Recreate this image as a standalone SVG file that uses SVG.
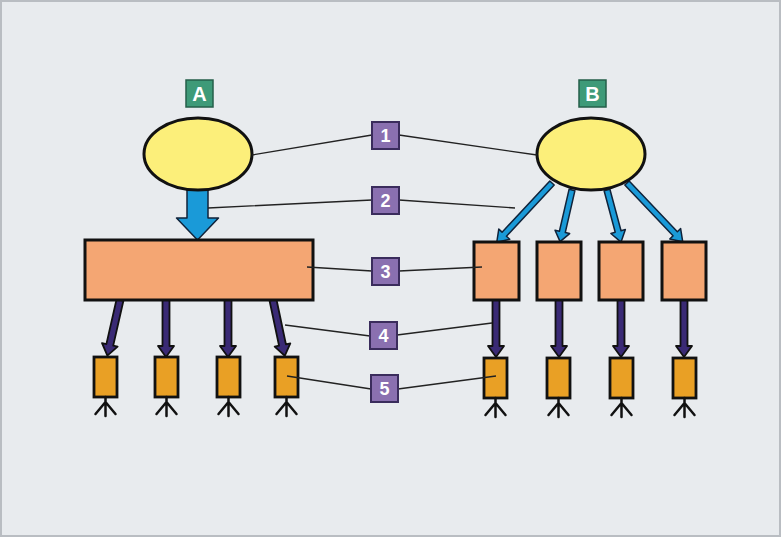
<svg xmlns="http://www.w3.org/2000/svg" width="781" height="537" viewBox="0 0 781 537">
<style>
.bg{fill:#e8ebee;stroke:#b9bdc2;stroke-width:2}
.ell{fill:#fcef7a;stroke:#111;stroke-width:3}
.big{fill:#f4a673;stroke:#111;stroke-width:3}
.small{fill:#e9a025;stroke:#111;stroke-width:2.8}
.blue{fill:#1a9ad8;stroke:#10233a;stroke-width:1.5;stroke-linejoin:round}
.dark{fill:#3a2a75;stroke:#111;stroke-width:1.8;stroke-linejoin:round}
.foot{fill:none;stroke:#111;stroke-width:2.5;stroke-linecap:round}
.lead{fill:none;stroke:#222;stroke-width:1.3}
.lab{fill:#3e9a78;stroke:#245f4a;stroke-width:1.5}
.num{fill:#8a70b0;stroke:#3a2c5c;stroke-width:2}
.lt{font-family:"Liberation Sans",Arial,sans-serif;font-weight:bold;fill:#fff;text-anchor:middle}
</style>
<defs>
<path id="darr" d="M-3.5,0 L3.5,0 L3.5,46 L8,46 L0,57 L-8,46 L-3.5,46 Z"/>
<path id="foot" d="M0,0 V19 M0,5 L-10,17 M0,5 L10,17"/>
</defs>
<rect class="bg" x="1" y="1" width="779" height="535"/>

<g id="connectors">
  <!-- blue arrow A -->
  <path class="blue" d="M187,190 L208,190 L208,218 L218.5,218 L197.5,240 L176.5,218 L187,218 Z"/>
  <!-- blue arrows B -->
  <path class="blue" transform="translate(552,183) rotate(43)" d="M-3,0 L3,0 L3,70 L7.5,70 L0,81 L-7.5,70 L-3,70 Z"/>
  <path class="blue" transform="translate(572,190) rotate(13)" d="M-3,0 L3,0 L3,43 L7.5,43 L0,53 L-7.5,43 L-3,43 Z"/>
  <path class="blue" transform="translate(607,190) rotate(-15)" d="M-3,0 L3,0 L3,43 L7.5,43 L0,54 L-7.5,43 L-3,43 Z"/>
  <path class="blue" transform="translate(627,183) rotate(-43.5)" d="M-3,0 L3,0 L3,70 L7.5,70 L0,81 L-7.5,70 L-3,70 Z"/>
  <!-- dark arrows left -->
  <use href="#darr" class="dark" transform="translate(120,300) rotate(12.8)"/>
  <use href="#darr" class="dark" transform="translate(166,300)"/>
  <use href="#darr" class="dark" transform="translate(228,300)"/>
  <use href="#darr" class="dark" transform="translate(273,300) rotate(-11.9)"/>
  <!-- dark arrows right -->
  <use href="#darr" class="dark" transform="translate(496,300)"/>
  <use href="#darr" class="dark" transform="translate(559,300)"/>
  <use href="#darr" class="dark" transform="translate(621,300)"/>
  <use href="#darr" class="dark" transform="translate(684,300)"/>
</g>

<g id="nodeA"><ellipse class="ell" cx="198" cy="154" rx="54" ry="36"/></g>
<g id="nodeB"><ellipse class="ell" cx="591" cy="154" rx="54" ry="36"/></g>
<g id="labelA"><rect class="lab" x="186" y="80" width="27" height="27"/><text class="lt" x="199.5" y="101" font-size="20">A</text></g>
<g id="labelB"><rect class="lab" x="579" y="80" width="27" height="27"/><text class="lt" x="592.5" y="101" font-size="20">B</text></g>

<g id="bigRect"><rect class="big" x="85" y="240" width="228" height="60"/></g>
<g id="rectB1"><rect class="big" x="474" y="242" width="45" height="58"/></g>
<g id="rectB2"><rect class="big" x="537" y="242" width="44" height="58"/></g>
<g id="rectB3"><rect class="big" x="599" y="242" width="44" height="58"/></g>
<g id="rectB4"><rect class="big" x="662" y="242" width="44" height="58"/></g>

<g id="smallA1"><rect class="small" x="94" y="357" width="23" height="40"/><use href="#foot" class="foot" transform="translate(105.5,397)"/></g>
<g id="smallA2"><rect class="small" x="155" y="357" width="23" height="40"/><use href="#foot" class="foot" transform="translate(166.5,397)"/></g>
<g id="smallA3"><rect class="small" x="217" y="357" width="23" height="40"/><use href="#foot" class="foot" transform="translate(228.5,397)"/></g>
<g id="smallA4"><rect class="small" x="275" y="357" width="23" height="40"/><use href="#foot" class="foot" transform="translate(286.5,397)"/></g>
<g id="smallB1"><rect class="small" x="484" y="358" width="23" height="40"/><use href="#foot" class="foot" transform="translate(495.5,398)"/></g>
<g id="smallB2"><rect class="small" x="547" y="358" width="23" height="40"/><use href="#foot" class="foot" transform="translate(558.5,398)"/></g>
<g id="smallB3"><rect class="small" x="610" y="358" width="23" height="40"/><use href="#foot" class="foot" transform="translate(621.5,398)"/></g>
<g id="smallB4"><rect class="small" x="673" y="358" width="23" height="40"/><use href="#foot" class="foot" transform="translate(684.5,398)"/></g>

<g id="leaders">
  <path class="lead" d="M252,155 L372,135 M399,135 L537,155"/>
  <path class="lead" d="M208,208 L372,200 M399,200 L515,208"/>
  <path class="lead" d="M307,267 L372,271 M399,271 L482,267"/>
  <path class="lead" d="M285,325 L370,336 M397,335 L492,323"/>
  <path class="lead" d="M287,376 L371,389 M398,389 L496,376"/>
</g>

<g id="num1"><rect class="num" x="372" y="122" width="27" height="27"/><text class="lt" x="385.5" y="142" font-size="18">1</text></g>
<g id="num2"><rect class="num" x="372" y="187" width="27" height="27"/><text class="lt" x="385.5" y="207" font-size="18">2</text></g>
<g id="num3"><rect class="num" x="372" y="258" width="27" height="27"/><text class="lt" x="385.5" y="278" font-size="18">3</text></g>
<g id="num4"><rect class="num" x="370" y="322" width="27" height="27"/><text class="lt" x="383.5" y="342" font-size="18">4</text></g>
<g id="num5"><rect class="num" x="371" y="375" width="27" height="27"/><text class="lt" x="384.5" y="395" font-size="18">5</text></g>
</svg>
